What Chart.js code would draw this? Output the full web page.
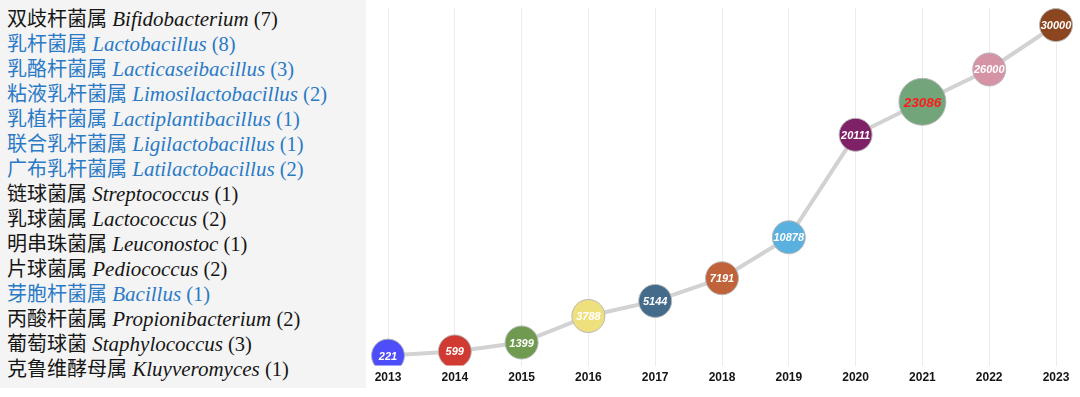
<!DOCTYPE html>
<html>
<head>
<meta charset="utf-8">
<script src="https://cdn.jsdelivr.net/npm/chart.js@4"></script>
<style>
  html, body { margin: 0; padding: 0; background: #ffffff; width: 1080px; height: 397px; overflow: hidden; }
  #panel { position: absolute; left: 0; top: 0; width: 366px; height: 388px; background: #f4f4f4; }
  #list { position: absolute; left: 7px; top: 5px; }
  .row { height: 25px; line-height: 25px; white-space: nowrap; font-family: "Liberation Serif", "Noto Sans CJK SC", serif; font-size: 20.5px; color: #161616; }
  .row .cn { font-family: "Noto Sans CJK SC", sans-serif; font-size: 20px; }
  .row .la { font-style: italic; font-size: 21px; }
  .row.blue { color: #2a7ac6; }
  #chartWrap { position: absolute; left: 367px; top: 0; width: 713px; height: 397px; }
</style>
</head>
<body>
<div id="panel"><div id="list"></div></div>
<div id="chartWrap"><canvas id="c" width="713" height="397"></canvas></div>
<script>
// ---- data ----
const genusChinese = ["双歧杆菌属","乳杆菌属","乳酪杆菌属","粘液乳杆菌属","乳植杆菌属","联合乳杆菌属","广布乳杆菌属","链球菌属","乳球菌属","明串珠菌属","片球菌属","芽胞杆菌属","丙酸杆菌属","葡萄球菌","克鲁维酵母属"];
const genusLatin = ["Bifidobacterium","Lactobacillus","Lacticaseibacillus","Limosilactobacillus","Lactiplantibacillus","Ligilactobacillus","Latilactobacillus","Streptococcus","Lactococcus","Leuconostoc","Pediococcus","Bacillus","Propionibacterium","Staphylococcus","Kluyveromyces"];
const genusCounts = [7,8,3,2,1,1,2,1,2,1,2,1,2,3,1];
const genusHighlighted = [false,true,true,true,true,true,true,false,false,false,false,true,false,false,false];

const years = ["2013","2014","2015","2016","2017","2018","2019","2020","2021","2022","2023"];
const totals = [221,599,1399,3788,5144,7191,10878,20111,23086,26000,30000];
const highlightYear = "2021";

// ---- styles ----
const bubbleColors = ["#4d4dfa","#d13a33","#6f9a50","#efe07e","#456b8a","#c0623a","#5ab0de","#7e2166","#72a57a","#d593a6","#8b451f"];

// left list
const list = document.getElementById('list');
genusChinese.forEach((cn, i) => {
  const d = document.createElement('div');
  d.className = 'row' + (genusHighlighted[i] ? ' blue' : '');
  const s1 = document.createElement('span'); s1.className = 'cn'; s1.textContent = cn;
  const s2 = document.createElement('span'); s2.className = 'la'; s2.textContent = ' ' + genusLatin[i];
  const s3 = document.createElement('span'); s3.textContent = ' (' + genusCounts[i] + ')';
  d.appendChild(s1); d.appendChild(s2); d.appendChild(s3);
  list.appendChild(d);
});

const labelPlugin = {
  id: 'bubbleLabels',
  afterDatasetsDraw(chart) {
    const ctx = chart.ctx;
    const meta = chart.getDatasetMeta(0);
    ctx.save();
    ctx.textAlign = 'center';
    ctx.textBaseline = 'middle';
    meta.data.forEach((pt, i) => {
      const hl = years[i] === highlightYear;
      ctx.font = hl ? 'italic bold 13.5px "Liberation Sans", Arial, sans-serif' : 'italic bold 11px "Liberation Sans", Arial, sans-serif';
      ctx.fillStyle = hl ? '#ff1a1a' : '#ffffff';
      ctx.fillText(String(totals[i]), pt.x, pt.y + 1);
    });
    ctx.restore();
  }
};

new Chart(document.getElementById('c'), {
  type: 'line',
  data: {
    labels: years,
    datasets: [{
      data: totals,
      borderColor: '#d2d2d2',
      borderWidth: 4,
      tension: 0,
      fill: false,
      pointBackgroundColor: bubbleColors,
      pointBorderColor: '#b8b8b8',
      pointBorderWidth: 1,
      pointRadius: (c) => years[c.dataIndex] === highlightYear ? 23.5 : 16.5,
      pointHoverRadius: (c) => years[c.dataIndex] === highlightYear ? 23.5 : 16.5
    }]
  },
  options: {
    responsive: false,
    devicePixelRatio: 1,
    animation: false,
    events: [],
    layout: { autoPadding: false, padding: { left: 21, right: 24, top: 8, bottom: 7 } },
    plugins: { legend: { display: false }, tooltip: { enabled: false } },
    scales: {
      x: {
        offset: false,
        grid: { color: '#ececec', lineWidth: 1, drawTicks: false },
        border: { display: false },
        ticks: { color: '#151515', padding: 5, font: { family: '"Liberation Sans", Arial, sans-serif', size: 12, weight: 'bold', lineHeight: 1.2 } }
      },
      y: { display: false, min: -681, max: 31535 }
    }
  },
  plugins: [labelPlugin]
});
</script>
</body>
</html>
